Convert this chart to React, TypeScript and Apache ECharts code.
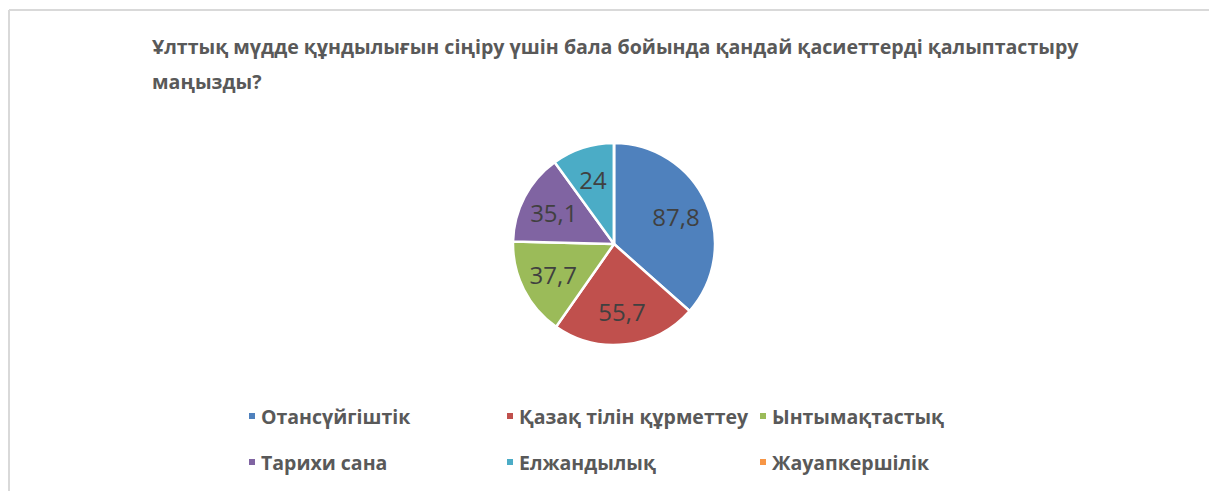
import React, { useEffect, useRef } from "react";
import * as echarts from "echarts";

const titleText = "Ұлттық мүдде құндылығын сіңіру үшін бала бойында қандай қасиеттерді қалыптастыру\nмаңызды?";
const categories = ["Отансүйгіштік", "Қазақ тілін құрметтеу", "Ынтымақтастық", "Тарихи сана", "Елжандылық", "Жауапкершілік"];
const values = [87.8, 55.7, 37.7, 35.1, 24, 0];
const colors = ["#4F81BD", "#C0504D", "#9BBB59", "#8064A2", "#4BACC6", "#F79646"];
const legendColumns = [
  ["Отансүйгіштік", "Тарихи сана"],
  ["Қазақ тілін құрметтеу", "Елжандылық"],
  ["Ынтымақтастық", "Жауапкершілік"],
];

export default function App() {
  const ref = useRef<HTMLDivElement>(null);
  useEffect(() => {
    if (!ref.current) return;
    const chart = echarts.init(ref.current, null, { renderer: "svg" });
    const data = categories.map((name, i) => ({ name, value: values[i], itemStyle: { color: colors[i] } }));
    const font = "'Open Sans', sans-serif";
    const legendLefts = [242, 500, 753];
    chart.setOption({
      animation: false,
      backgroundColor: "#ffffff",
      title: {
        text: titleText,
        left: 147,
        top: 24,
        textStyle: { fontFamily: font, fontSize: 19.6, fontWeight: "bold", color: "#595959", lineHeight: 35 },
      },
      legend: legendColumns.map((col, i) => ({
        data: col,
        orient: "vertical",
        left: legendLefts[i],
        top: 399,
        icon: "rect",
        itemWidth: 8,
        itemHeight: 8,
        itemGap: 22,
        selectedMode: false,
        textStyle: { fontFamily: font, fontSize: 19.5, fontWeight: "bold", color: "#595959", lineHeight: 24 },
      })),
      graphic: [
        { type: "line", shape: { x1: 9, y1: 10, x2: 1209, y2: 10 }, style: { stroke: "#d9d9d9", lineWidth: 2 } },
        { type: "line", shape: { x1: 9, y1: 10, x2: 9, y2: 491 }, style: { stroke: "#d9d9d9", lineWidth: 2 } },
      ],
      series: [
        {
          type: "pie",
          center: [614, 244],
          radius: 101,
          startAngle: 90,
          clockwise: true,
          data,
          label: { show: false },
          labelLine: { show: false },
          itemStyle: { borderColor: "#ffffff", borderWidth: 2.5 },
          silent: true,
        },
        {
          type: "pie",
          center: [614, 244],
          radius: [29, 101],
          startAngle: 90,
          clockwise: true,
          data: categories.map((name, i) => ({ name, value: values[i], itemStyle: { color: "rgba(0,0,0,0)" } })),
          label: {
            show: true,
            position: "inside",
            fontFamily: "'Open Sans', sans-serif",
            fontSize: 24,
            color: "#404040",
            formatter: (p: any) => (p.value ? String(p.value).replace(".", ",") : ""),
          },
          labelLine: { show: false },
          itemStyle: { borderWidth: 0 },
          silent: true,
        },
      ],
    });
    return () => chart.dispose();
  }, []);
  return <div ref={ref} style={{ position: "absolute", left: 0, top: 0, width: 1209, height: 491 }} />;
}
